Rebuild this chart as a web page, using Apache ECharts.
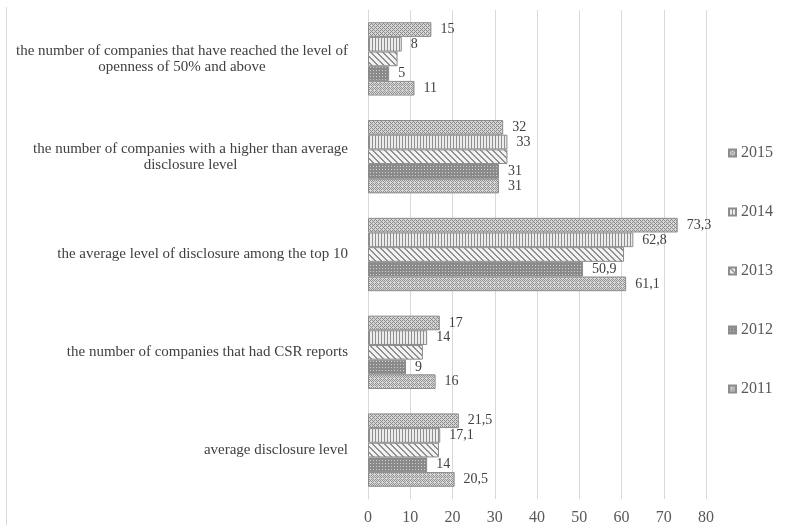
<!DOCTYPE html>
<html>
<head>
<meta charset="utf-8">
<script src="https://cdn.jsdelivr.net/npm/echarts@6/dist/echarts.min.js"></script>
<style>
  html, body { margin: 0; padding: 0; background: #fff; }
  #chart { width: 790px; height: 525px; }
</style>
</head>
<body>
<div id="chart"></div>
<script>
// Categories listed bottom to top (category axis runs upward)
const categories = [
  'average disclosure level',
  'the number of companies that had CSR reports',
  'the average level of disclosure among the top 10',
  'the number of companies with a higher than average\ndisclosure level',
  'the number of companies that have reached the level of\nopenness of 50% and above'
];

const years = ['2015', '2014', '2013', '2012', '2011'];

const values2015 = [21.5, 17, 73.3, 32, 15];
const values2014 = [17.1, 14, 62.8, 33, 8];
const values2013 = [16.8, 13, 60.6, 33, 7];
const values2012 = [14, 9, 50.9, 31, 5];
const values2011 = [20.5, 16, 61.1, 31, 11];

const xTicks = [0, 10, 20, 30, 40, 50, 60, 70, 80];

const FONT = '"Liberation Serif", "Times New Roman", serif';
const TEXT = '#404040';
const CAT_SIZE = 15;

// Build a small repeating monochrome tile from a pixel map
function tile(rows, dark, light) {
  const h = rows.length, w = rows[0].length;
  const c = document.createElement('canvas');
  c.width = w; c.height = h;
  const ctx = c.getContext('2d');
  for (let y = 0; y < h; y++) {
    for (let x = 0; x < w; x++) {
      ctx.fillStyle = rows[y][x] === '#' ? dark : light;
      ctx.fillRect(x, y, 1, 1);
    }
  }
  return { image: c, repeat: 'repeat' };
}

const fills = {
  '2015': tile(['#.#.', '.#..', '#.#.', '...#'], '#8a8a8a', '#d6d6d6'),
  '2014': tile(['#..'], '#8f8f8f', '#ececec'),
  '2013': tile([
    '##....',
    '.##...',
    '..##..',
    '...##.',
    '....##',
    '#....#'
  ], '#8f8f8f', '#f2f2f2'),
  '2012': tile(['###', '#.#', '###'], '#8a8a8a', '#d0d0d0'),
  '2011': tile(['#.#.', '.#.#', '#...', '.#.#'], '#939393', '#d9d9d9')
};

const seriesValues = {
  '2015': values2015,
  '2014': values2014,
  '2013': values2013,
  '2012': values2012,
  '2011': values2011
};

// 2013 bars carry no value labels
const labelled = { '2015': true, '2014': true, '2013': false, '2012': true, '2011': true };

// Wrapped category labels: lines centred inside a block whose right edge sits on the axis
const measureCtx = document.createElement('canvas').getContext('2d');
measureCtx.font = CAT_SIZE + 'px ' + FONT;
const catRich = {};
categories.forEach((label, i) => {
  const lines = label.split('\n');
  const style = { fontFamily: FONT, fontSize: CAT_SIZE, color: TEXT, lineHeight: 16 };
  if (lines.length > 1) {
    style.width = Math.ceil(Math.max(...lines.map((l) => measureCtx.measureText(l).width)));
    style.align = 'center';
  }
  catRich['c' + i] = style;
});

const chart = echarts.init(document.getElementById('chart'), null, { renderer: 'canvas' });

chart.setOption({
  backgroundColor: '#ffffff',
  animation: false,
  textStyle: { fontFamily: FONT },
  graphic: [{
    type: 'line',
    shape: { x1: 6.5, y1: 7, x2: 6.5, y2: 525 },
    style: { stroke: '#d9d9d9', lineWidth: 1 }
  }],
  grid: { left: 368, right: 84, top: 10, bottom: 26, containLabel: false, outerBoundsMode: 'none' },
  legend: {
    orient: 'vertical',
    left: 723,
    top: 139,
    data: years,
    itemWidth: 7,
    itemHeight: 7,
    itemGap: 41,
    icon: 'rect',
    textStyle: { fontFamily: FONT, fontSize: 16, color: '#595959', lineHeight: 18 }
  },
  xAxis: {
    type: 'value',
    min: xTicks[0],
    max: xTicks[xTicks.length - 1],
    interval: xTicks[1] - xTicks[0],
    axisLine: { show: false },
    axisTick: { show: false },
    splitLine: { lineStyle: { color: '#d9d9d9', width: 1 } },
    axisLabel: { fontFamily: FONT, fontSize: 16, color: '#595959', margin: 11 }
  },
  yAxis: {
    type: 'category',
    data: categories,
    axisTick: { show: false },
    axisLine: { lineStyle: { color: '#d9d9d9' } },
    axisLabel: {
      margin: 20,
      formatter: (v, i) => v.split('\n').map((s) => '{c' + i + '|' + s + '}').join('\n'),
      rich: catRich
    }
  },
  series: years.map((y) => ({
    name: y,
    type: 'bar',
    data: seriesValues[y],
    barGap: '0%',
    barCategoryGap: '25%',
    itemStyle: { color: fills[y], borderColor: '#8c8c8c', borderWidth: 1 },
    label: {
      show: labelled[y],
      position: 'right',
      distance: 9,
      fontFamily: FONT,
      fontSize: 14,
      color: TEXT,
      formatter: (p) => String(p.value).replace('.', ',')
    }
  }))
});
</script>
</body>
</html>
